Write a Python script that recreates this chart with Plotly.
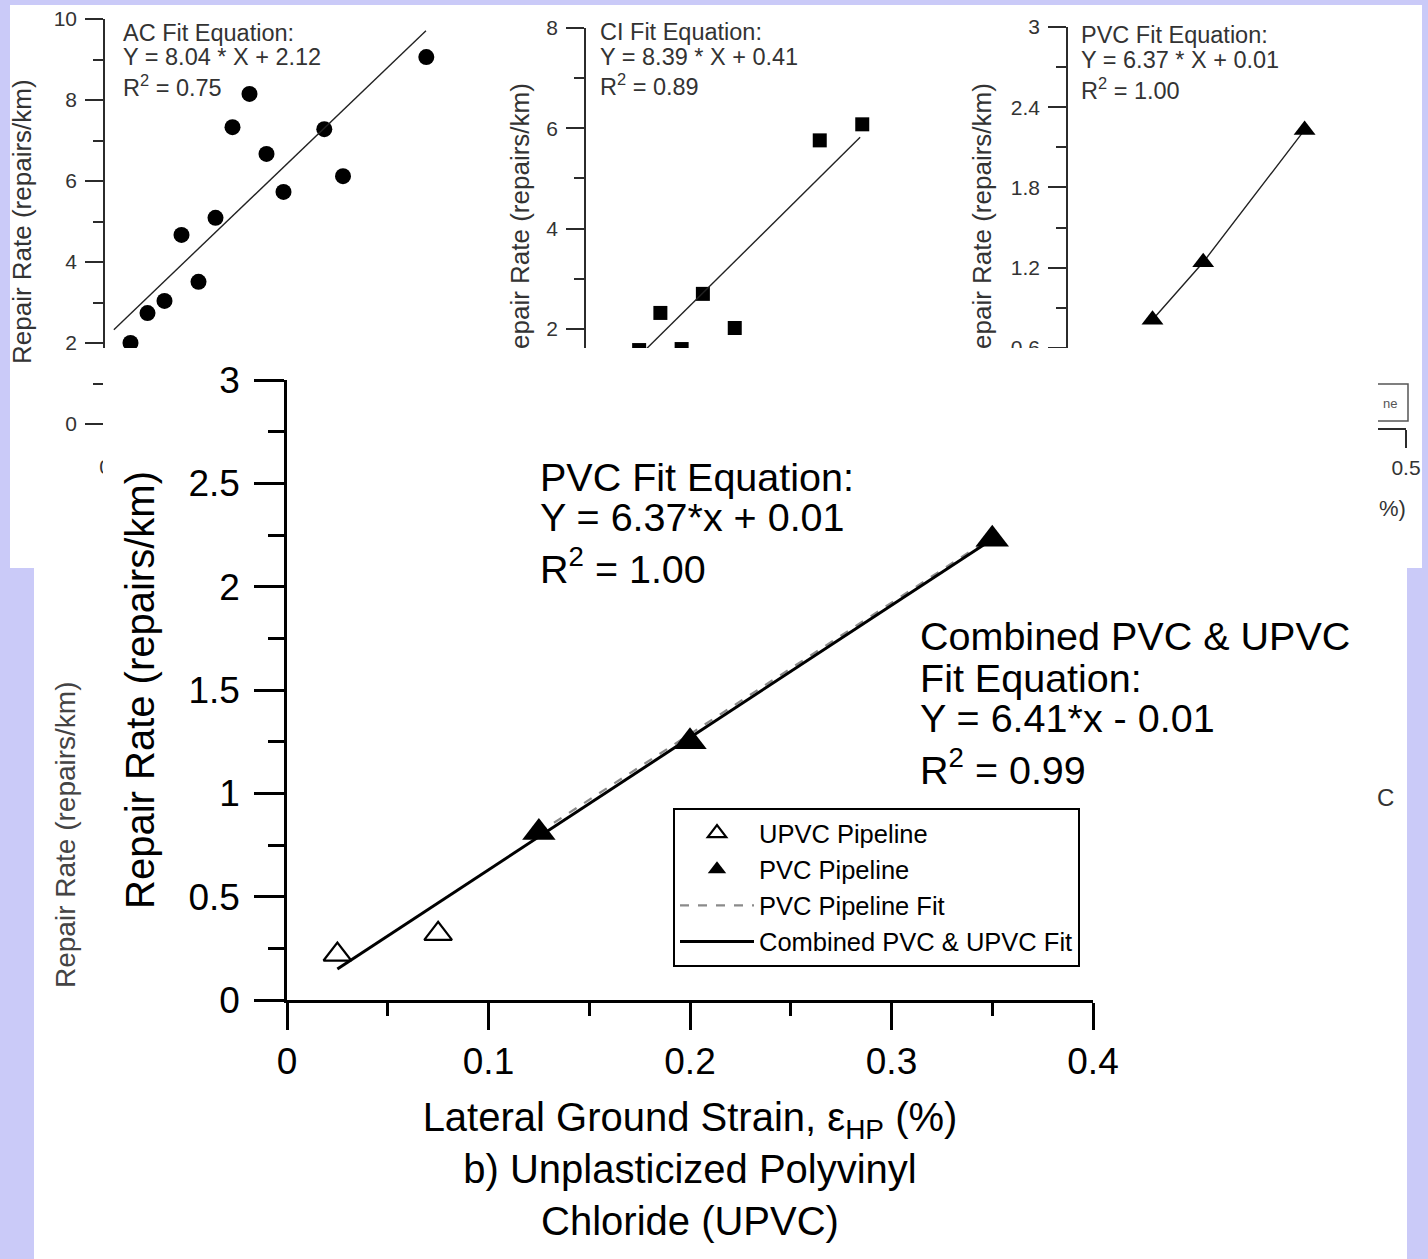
import plotly.graph_objects as go

W, H = 1428, 1259

# ---------------- data ----------------
# a) Asbestos cement (top-left panel)
ac_x = [0.075, 0.125, 0.175, 0.225, 0.275, 0.325, 0.375, 0.425, 0.475, 0.525, 0.645, 0.70, 0.945]
ac_y = [2.00, 2.74, 3.04, 4.67, 3.51, 5.09, 7.33, 8.15, 6.67, 5.73, 7.28, 6.12, 9.06]
ac_fit_x = [0.026, 0.944]
ac_fit_y = [2.33, 9.71]

# Cast iron (top-middle panel)
ci_x = [0.125, 0.175, 0.225, 0.275, 0.35, 0.55, 0.65]
ci_y = [1.58, 2.32, 1.60, 2.70, 2.02, 5.76, 6.08]
ci_fit_x = [0.125, 0.645]
ci_fit_y = [1.46, 5.82]

# PVC (top-right panel)
pvc_small_x = [0.125, 0.20, 0.35]
pvc_small_y = [0.81, 1.24, 2.23]

# b) UPVC main chart
upvc_x = [0.025, 0.075]
upvc_y = [0.22, 0.32]
pvc_x = [0.125, 0.20, 0.35]
pvc_y = [0.81, 1.25, 2.23]
pvc_fit_x = [0.125, 0.35]
pvc_fit_y = [0.81, 2.24]
comb_fit_x = [0.025, 0.35]
comb_fit_y = [0.15, 2.23]

main_xticks = [0, 0.1, 0.2, 0.3, 0.4]
main_yticks = [0, 0.5, 1, 1.5, 2, 2.5, 3]
ac_yticks = [0, 2, 4, 6, 8, 10]
ci_yticks = [2, 4, 6, 8]
pvc_small_yticks = [0.6, 1.2, 1.8, 2.4, 3]

# ---------------- helpers ----------------
def fx(px):
    return px / W

def fy(py):
    return 1 - py / H

FONT = "Liberation Sans, Arial, Helvetica, sans-serif"
GREY_TXT = "#333333"
LAV = "rgb(202,202,248)"

fig = go.Figure()

# top panels
fig.add_trace(go.Scatter(x=ac_x, y=ac_y, mode="markers", xaxis="x", yaxis="y",
                         marker=dict(symbol="circle", size=16, color="black"),
                         showlegend=False, hoverinfo="skip"))
fig.add_trace(go.Scatter(x=ac_fit_x, y=ac_fit_y, mode="lines", xaxis="x", yaxis="y",
                         line=dict(color="#222222", width=1.4),
                         showlegend=False, hoverinfo="skip"))
fig.add_trace(go.Scatter(x=ci_x, y=ci_y, mode="markers", xaxis="x2", yaxis="y2",
                         marker=dict(symbol="square", size=14, color="black"),
                         showlegend=False, hoverinfo="skip"))
fig.add_trace(go.Scatter(x=ci_fit_x, y=ci_fit_y, mode="lines", xaxis="x2", yaxis="y2",
                         line=dict(color="#222222", width=1.4),
                         showlegend=False, hoverinfo="skip"))
fig.add_trace(go.Scatter(x=pvc_small_x, y=pvc_small_y, mode="lines+markers", xaxis="x3", yaxis="y3",
                         marker=dict(symbol="triangle-up", size=19, color="black"),
                         line=dict(color="#222222", width=1.4),
                         showlegend=False, hoverinfo="skip"))

# overlay subplot (the pasted lower picture covering the top panels)
fig.add_trace(go.Scatter(x=[None], y=[None], xaxis="x4", yaxis="y4",
                         showlegend=False, hoverinfo="skip"))

# main chart
fig.add_trace(go.Scatter(x=pvc_fit_x, y=pvc_fit_y, mode="lines", xaxis="x5", yaxis="y5",
                         name="PVC Pipeline Fit", legendrank=3,
                         line=dict(color="#8a8a8a", width=2.2, dash="dash"), hoverinfo="skip"))
fig.add_trace(go.Scatter(x=comb_fit_x, y=comb_fit_y, mode="lines", xaxis="x5", yaxis="y5",
                         name="Combined PVC & UPVC Fit", legendrank=4,
                         line=dict(color="black", width=3), hoverinfo="skip"))
fig.add_trace(go.Scatter(x=upvc_x, y=upvc_y, mode="markers", xaxis="x5", yaxis="y5",
                         name="UPVC Pipeline", legendrank=1,
                         marker=dict(symbol="triangle-up-open", size=24, color="black",
                                     line=dict(width=2.2, color="black")), hoverinfo="skip"))
fig.add_trace(go.Scatter(x=pvc_x, y=pvc_y, mode="markers", xaxis="x5", yaxis="y5",
                         name="PVC Pipeline", legendrank=2,
                         marker=dict(symbol="triangle-up", size=29, color="black"), hoverinfo="skip"))

top_axis = dict(showline=True, linecolor="#2b2b2b", linewidth=1.5, ticks="outside",
                tickcolor="#2b2b2b", tickwidth=1.5, showgrid=False, zeroline=False,
                tickfont=dict(family=FONT, size=21, color=GREY_TXT), fixedrange=True,
                automargin=False)

main_axis = dict(showline=True, linecolor="black", linewidth=2.5, ticks="outside",
                 tickcolor="black", tickwidth=2.5, showgrid=False, zeroline=False,
                 tickfont=dict(family=FONT, size=37, color="black"), fixedrange=True,
                 automargin=False)

fig.update_layout(
    width=W, height=H, autosize=False,
    margin=dict(l=0, r=0, t=0, b=0, pad=0, autoexpand=False),
    paper_bgcolor=LAV, plot_bgcolor="white",
    font=dict(family=FONT, color="black"),
    xaxis=dict(top_axis, domain=[fx(105), fx(445)], range=[0, 1], tickvals=[0], ticklen=10,
               anchor="y"),
    yaxis=dict(top_axis, domain=[fy(437), fy(19)], range=[-0.32, 10], tickvals=ac_yticks, ticklen=18,
               ticklabelstandoff=4,
               minor=dict(dtick=1, tick0=0, ticklen=10, ticks="outside", tickcolor="#2b2b2b", tickwidth=1.5),
               anchor="x"),
    xaxis2=dict(top_axis, domain=[fx(586), fx(926)], range=[0, 0.8], showticklabels=False,
                dtick=0.2, ticklen=10, anchor="y2"),
    yaxis2=dict(top_axis, domain=[fy(440), fy(28)], range=[-0.213, 8], tickvals=ci_yticks, ticklen=18,
                ticklabelstandoff=4,
                minor=dict(dtick=1, tick0=0, ticklen=10, ticks="outside", tickcolor="#2b2b2b", tickwidth=1.5),
                anchor="x2"),
    xaxis3=dict(top_axis, domain=[fx(1068), fx(1406)], range=[0, 0.5], tickvals=[0.5], ticklen=18,
                ticklabelstandoff=2, anchor="y3"),
    yaxis3=dict(top_axis, domain=[fy(428), fy(27)], range=[0, 3], tickvals=pvc_small_yticks, ticklen=18,
                ticklabelstandoff=4,
                minor=dict(dtick=0.3, tick0=0, ticklen=10, ticks="outside", tickcolor="#2b2b2b", tickwidth=1.5),
                anchor="x3"),
    xaxis4=dict(domain=[fx(103), fx(1378)], range=[0, 1], visible=False, anchor="y4", fixedrange=True),
    yaxis4=dict(domain=[fy(568), fy(348)], range=[0, 1], visible=False, anchor="x4", fixedrange=True),
    xaxis5=dict(main_axis, domain=[fx(287), fx(1093)], range=[0, 0.4], tickvals=main_xticks,
                ticklen=27, ticklabelstandoff=0,
                minor=dict(dtick=0.05, ticklen=13, ticks="outside", tickcolor="black", tickwidth=2.5),
                title=dict(text="Lateral Ground Strain, ε<sub>HP</sub> (%)<br>b) Unplasticized Polyvinyl<br>Chloride (UPVC)",
                           font=dict(family=FONT, size=40, color="black"), standoff=22),
                anchor="y5"),
    yaxis5=dict(main_axis, domain=[fy(1000), fy(380)], range=[0, 3], tickvals=main_yticks,
                ticklen=30, ticklabelstandoff=7,
                minor=dict(dtick=0.25, ticklen=16, ticks="outside", tickcolor="black", tickwidth=2.5),
                title=dict(text="Repair Rate (repairs/km)", font=dict(family=FONT, size=40, color="black"),
                           standoff=22),
                anchor="x5"),
    legend=dict(x=fx(673), y=fy(808), xanchor="left", yanchor="top",
                bgcolor="white", bordercolor="black", borderwidth=2,
                font=dict(family=FONT, size=25.5, color="black"), itemwidth=74),
    showlegend=True,
)

# background panels
shapes = [
    dict(type="rect", xref="paper", yref="paper", layer="below",
         x0=fx(10), x1=fx(1422), y0=fy(568), y1=fy(5), fillcolor="white", line=dict(width=0)),
    dict(type="rect", xref="paper", yref="paper", layer="below",
         x0=fx(34), x1=fx(1407), y0=fy(1259), y1=fy(568), fillcolor="white", line=dict(width=0)),
    # legend box of the PVC top panel (mostly covered)
    dict(type="rect", xref="paper", yref="paper", layer="below",
         x0=fx(1300), x1=fx(1408), y0=fy(421), y1=fy(384), fillcolor="white",
         line=dict(color="#555555", width=1.5)),
]
fig.update_layout(shapes=shapes)

ann = []

def txt(text, px, py, size, color="black", xanchor="left", angle=0):
    ann.append(dict(text=text, x=fx(px), y=fy(py), xref="paper", yref="paper",
                    xanchor=xanchor, yanchor="middle", showarrow=False, textangle=angle,
                    font=dict(family=FONT, size=size, color=color)))

# top panel axis titles
txt("Repair Rate (repairs/km)", 22, 222, 26, GREY_TXT, "center", -90)
txt("epair Rate (repairs/km)", 520, 216, 26, GREY_TXT, "center", -90)
txt("epair Rate (repairs/km)", 982, 216, 26, GREY_TXT, "center", -90)

# top panel equations
txt("AC Fit Equation:", 121, 33, 23.5, GREY_TXT)
txt("Y = 8.04 * X + 2.12", 121, 57, 23.5, GREY_TXT)
txt("R<sup>2</sup> = 0.75", 121, 86, 23.5, GREY_TXT)
txt("CI Fit Equation:", 598, 32, 23.5, GREY_TXT)
txt("Y = 8.39 * X + 0.41", 598, 57, 23.5, GREY_TXT)
txt("R<sup>2</sup> = 0.89", 598, 85, 23.5, GREY_TXT)
txt("PVC Fit Equation:", 1079, 35, 23.5, GREY_TXT)
txt("Y = 6.37 * X + 0.01", 1079, 60, 23.5, GREY_TXT)
txt("R<sup>2</sup> = 1.00", 1079, 89, 23.5, GREY_TXT)

# main chart equations
txt("PVC Fit Equation:", 538, 477, 39.5)
txt("Y = 6.37*x + 0.01", 538, 517, 39.5)
txt("R<sup>2</sup> = 1.00", 538, 566, 39.5)
txt("Combined PVC &amp; UPVC", 918, 636, 39.5)
txt("Fit Equation:", 918, 678, 39.5)
txt("Y = 6.41*x - 0.01", 918, 718, 39.5)
txt("R<sup>2</sup> = 0.99", 918, 767, 39.5)

# fragments of underlying figures
txt("ne", 1390, 404, 13, "#555555", "center")
txt("%)", 1392, 508, 22, GREY_TXT, "center")
txt("C", 1385, 797, 24, GREY_TXT, "center")
txt("Repair Rate (repairs/km)", 65, 835, 28, "#444444", "center", -90)

fig.update_layout(annotations=ann)

fig.write_html(
    "out.html", include_plotlyjs=True, full_html=True,
    config={"displayModeBar": False},
    post_script="document.body.style.margin='0';document.body.style.padding='0';"
                "document.documentElement.style.overflow='hidden';document.body.style.overflow='hidden';",
)
